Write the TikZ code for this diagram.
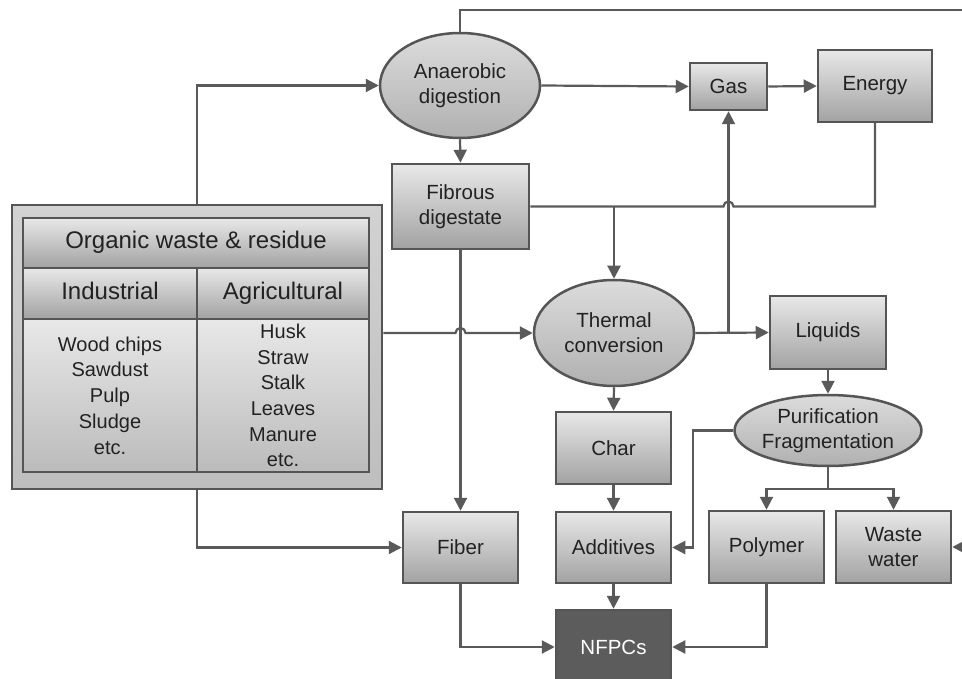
\documentclass[tikz,border=0pt]{standalone}
\usepackage{fontspec}
\setmainfont{Liberation Sans}
\usetikzlibrary{shapes.geometric,arrows.meta,calc}
\definecolor{linec}{HTML}{5A5A5A}
\definecolor{bordc}{HTML}{555555}
\definecolor{boxtop}{HTML}{E8E8E8}
\definecolor{boxbot}{HTML}{A2A2A2}
\definecolor{elltop}{HTML}{DCDCDC}
\definecolor{ellbot}{HTML}{B0B0B0}
\definecolor{txtc}{HTML}{222222}
\definecolor{nfpcfill}{HTML}{5C5C5C}
\definecolor{outtop}{HTML}{D2D2D2}
\definecolor{outbot}{HTML}{BEBEBE}
\definecolor{celltop}{HTML}{E8E8E8}
\definecolor{cellbot}{HTML}{BBBBBB}
\begin{document}
\begin{tikzpicture}[x=1pt,y=-1pt,
  conn/.style={draw=linec,line width=2.2pt},
  arr/.style={conn,-{Triangle[length=13pt,width=13pt]}},
  nodefont/.style={font=\fontsize{20.5}{25}\selectfont},
  box/.style={rectangle,draw=bordc,line width=2.5pt,top color=boxtop,bottom color=boxbot,inner sep=0pt,align=center,nodefont,text=txtc},
  ell/.style={ellipse,draw=bordc,line width=2.5pt,top color=elltop,bottom color=ellbot,inner sep=0pt,align=center,nodefont,text=txtc},
  cell/.style={rectangle,draw=bordc,line width=2.5pt,top color=boxtop,bottom color=boxbot,inner sep=0pt,align=center,text=txtc,font=\fontsize{24}{28}\selectfont,text height=17pt,text depth=5pt},
  bodycell/.style={rectangle,draw=bordc,line width=2.5pt,top color=celltop,bottom color=cellbot,inner sep=0pt,align=center,text=txtc,font=\fontsize{20}{25.7}\selectfont},
]
\useasboundingbox (0,0) rectangle (962,679);

% source box
\node[rectangle,draw=bordc,line width=2.5pt,top color=outtop,bottom color=outbot,minimum width=370pt,minimum height=284pt] (outer) at (197,347) {};
\node[cell,minimum width=346pt,minimum height=50pt] (title) at (196,243) {Organic waste \& residue};
\node[cell,minimum width=174pt,minimum height=51pt] (ind) at (110,293.5) {Industrial};
\node[cell,minimum width=172pt,minimum height=51pt] (agr) at (283,293.5) {Agricultural};
\node[bodycell,minimum width=174pt,minimum height=153pt] (indb) at (110,395.5) {Wood chips\\Sawdust\\Pulp\\Sludge\\etc.};
\node[bodycell,minimum width=172pt,minimum height=153pt] (agrb) at (283,395.5) {Husk\\Straw\\Stalk\\Leaves\\Manure\\etc.};

% process nodes
\node[ell,minimum width=160pt,minimum height=105pt] (anaer) at (460,85.5) {Anaerobic\\digestion};
\node[box,minimum width=77pt,minimum height=47pt] (gas) at (728.5,86.5) {Gas};
\node[box,minimum width=114pt,minimum height=72pt] (energy) at (875,86) {Energy};
\node[box,minimum width=137pt,minimum height=85pt] (fib) at (460.5,206.5) {Fibrous\\digestate};
\node[ell,minimum width=160pt,minimum height=106pt] (therm) at (614,333) {Thermal\\conversion};
\node[box,minimum width=116pt,minimum height=73pt] (liq) at (828,332.5) {Liquids};
\node[ell,minimum width=182pt,minimum height=71pt] (puri) at (828,430.5) {Purification\\Fragmentation};
\node[box,minimum width=115pt,minimum height=72pt] (char) at (613.5,448) {Char};
\node[box,minimum width=115pt,minimum height=71pt] (add) at (613.5,547.5) {Additives};
\node[box,minimum width=115pt,minimum height=71pt] (fiber) at (460.5,547.5) {Fiber};
\node[box,minimum width=115pt,minimum height=72pt] (poly) at (766.5,547) {Polymer};
\node[box,minimum width=115pt,minimum height=72pt] (ww) at (893.5,547) {Waste\\water};
\node[box,top color=nfpcfill,bottom color=nfpcfill,text=white,minimum width=115pt,minimum height=74pt] (nfpc) at (613.5,647) {NFPCs};

% connectors
\draw[arr] (outer.north) |- (anaer.west);
\draw[arr] (outer.south) |- (fiber.west);
\draw[arr] (outer.east |- therm.west) -- ([xshift=-5pt]fib.south |- therm.west)
   arc[start angle=180,end angle=0,radius=5pt] -- (therm.west);
\draw[arr] (anaer.north) -- (460,10) -- (980,10) -- (980,547) -- (ww.east);
\draw[arr] (anaer.east) -- (gas.west);
\draw[arr] (gas.east) -- (energy.west);
\draw[arr] (anaer.south) -- (fib.north);
\draw[conn] (energy.south) -- (energy.south |- fib.east) -- ([xshift=5pt]gas.south |- fib.east)
   arc[start angle=0,end angle=180,radius=5pt] -- (fib.east);
\draw[arr] (therm.north |- fib.east) -- (therm.north);
\draw[arr] (fib.south) -- (fiber.north);
\draw[arr] (therm.east) -- (liq.west);
\draw[arr] (gas.south |- therm.east) -- (gas.south);
\draw[arr] (liq.south) -- (puri.north);
\draw[arr] (puri.west) -- (693,430.5) |- (add.east);
\draw[arr] (puri.south) -- ++(0,21.5) -| (poly.north);
\draw[arr] (puri.south) -- ++(0,21.5) -| (ww.north);
\draw[arr] (therm.south) -- (char.north);
\draw[arr] (char.south) -- (add.north);
\draw[arr] (add.south) -- (nfpc.north);
\draw[arr] (fiber.south) |- (nfpc.west);
\draw[arr] (poly.south) |- (nfpc.east);
\end{tikzpicture}
\end{document}
